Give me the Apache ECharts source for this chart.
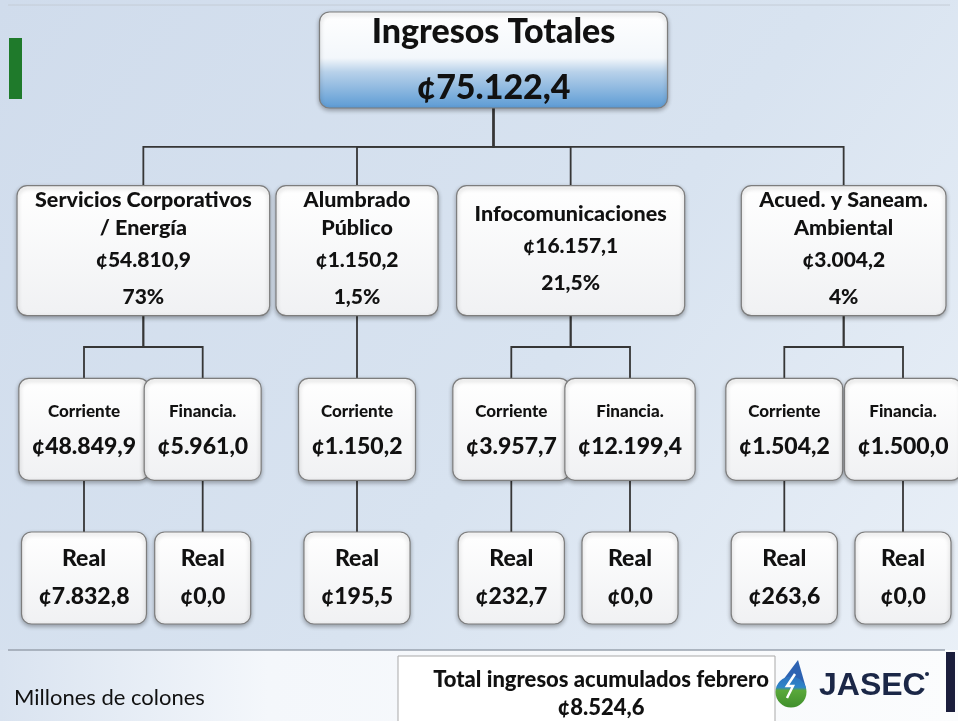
<!DOCTYPE html>
<html>
<head>
<meta charset="utf-8">
<script src="https://cdn.jsdelivr.net/npm/echarts@6/dist/echarts.min.js"></script>
<style>
  html, body { margin: 0; padding: 0; background: #fff; }
  #main { width: 958px; height: 721px; }
</style>
</head>
<body>
<div id="main"></div>
<script>
// datos (millones de colones)
const rootTitle = 'Ingresos Totales';
const rootValue = 75122.4;
const unitNames = ['Servicios Corporativos\n/ Energía', 'Alumbrado\nPúblico', 'Infocomunicaciones', 'Acued. y Saneam.\nAmbiental'];
const unitValues = [54810.9, 1150.2, 16157.1, 3004.2];
const unitShares = [73, 1.5, 21.5, 4];
const budgetTypes = [['Corriente', 'Financia.'], ['Corriente'], ['Corriente', 'Financia.'], ['Corriente', 'Financia.']];
const budgetValues = [[48849.9, 5961.0], [1150.2], [3957.7, 12199.4], [1504.2, 1500.0]];
const realLabel = 'Real';
const realValues = [[7832.8, 0.0], [195.5], [232.7, 0.0], [263.6, 0.0]];
const febLabel = 'Total ingresos acumulados febrero';
const febTotal = 8524.6;
const unitNote = 'Millones de colones';

const FONT = 'Lato';
const WEIGHT = 900;
const INK = '#111111';

function colones (v) {
  const parts = v.toFixed(1).split('.');
  return '¢' + parts[0].replace(/\B(?=(\d{3})+(?!\d))/g, '.') + ',' + parts[1];
}
function pct (v) {
  return String(v).replace('.', ',') + '%';
}

// estilos de texto por nivel
function tok (size, lh) {
  return { fontFamily: FONT, fontWeight: WEIGHT, fontSize: size, lineHeight: lh, fill: INK };
}
const rich = {
  t: tok(34, 56),
  n: tok(21.5, 28),
  v: tok(21, 37),
  c: tok(17, 34),
  b: tok(23, 36),
  r: tok(23, 38)
};
const boxH = [96, 130, 102, 92];
const levelShift = [0, 18, 24, 0];
const padW = [40, 36, 26, 34];
const minW = [348, 162, 108, 96];

const ctx = document.createElement('canvas').getContext('2d');
function boxWidth (depth, pieces) {
  let w = 0;
  pieces.forEach(p => {
    ctx.font = WEIGHT + ' ' + rich[p[0]].fontSize + 'px ' + FONT;
    w = Math.max(w, ctx.measureText(p[1]).width);
  });
  return Math.max(minW[depth], w + padW[depth]);
}
function makeNode (depth, x, pieces) {
  return {
    depth: depth,
    x: x,
    text: pieces.map(p => '{' + p[0] + '|' + p[1] + '}').join('\n'),
    w: boxWidth(depth, pieces)
  };
}

// posiciones: hojas separadas (hermanos 1, primos 1.3), padres centrados
const nodes = [];
const links = [];
const unitX = [];
let cursor = 0;
let prevUnit = null;
unitNames.forEach((name, u) => {
  const kids = [];
  budgetTypes[u].forEach((t, k) => {
    if (prevUnit !== null) cursor += (prevUnit === u ? 1 : 1.3);
    prevUnit = u;
    kids.push(cursor);
    nodes.push(makeNode(2, cursor, [['c', t], ['b', colones(budgetValues[u][k])]]));
    nodes.push(makeNode(3, cursor, [['r', realLabel], ['r', colones(realValues[u][k])]]));
    links.push([cursor, 2, cursor, 3]);
  });
  const ux = (kids[0] + kids[kids.length - 1]) / 2;
  unitX.push(ux);
  kids.forEach(kx => links.push([ux, 1, kx, 2]));
  const pieces = name.split('\n').map(s => ['n', s]);
  pieces.push(['v', colones(unitValues[u])], ['v', pct(unitShares[u])]);
  nodes.push(makeNode(1, ux, pieces));
});
const rootX = (unitX[0] + unitX[unitX.length - 1]) / 2;
unitX.forEach(ux => links.push([rootX, 0, ux, 1]));
nodes.push(makeNode(0, rootX, [['t', rootTitle], ['t', colones(rootValue)]]));

const chart = echarts.init(document.getElementById('main'));

function boxFill (depth) {
  if (depth === 0) {
    return new echarts.graphic.LinearGradient(0, 0, 0, 1, [
      { offset: 0, color: '#ffffff' },
      { offset: 0.48, color: '#f3f7fb' },
      { offset: 0.62, color: '#b9d2ea' },
      { offset: 1, color: '#5b9ad4' }
    ]);
  }
  return new echarts.graphic.LinearGradient(0, 0, 0, 1, [
    { offset: 0, color: '#ffffff' },
    { offset: 1, color: '#f0f1f3' }
  ]);
}

chart.setOption({
  animation: false,
  graphic: [
    {
      type: 'rect', z: -10, silent: true,
      shape: { x: 0, y: 0, width: 958, height: 721 },
      style: {
        fill: new echarts.graphic.LinearGradient(0, 0, 1, 1, [
          { offset: 0, color: '#d0dcec' },
          { offset: 0.55, color: '#d8e3f0' },
          { offset: 1, color: '#ebf1f8' }
        ])
      }
    },
    {
      type: 'rect', z: -9, silent: true,
      shape: { x: 0, y: 650, width: 958, height: 71 },
      style: {
        fill: new echarts.graphic.LinearGradient(0, 0, 1, 0, [
          { offset: 0, color: '#d9e3f0' },
          { offset: 0.28, color: '#f4f7fb' },
          { offset: 1, color: '#fbfcfd' }
        ])
      }
    },
    { type: 'line', z: -8, silent: true, shape: { x1: 8, y1: 650, x2: 945, y2: 650 }, style: { stroke: '#98a2ae', lineWidth: 1.5 } },
    { type: 'line', z: -8, silent: true, shape: { x1: 8, y1: 5, x2: 950, y2: 5 }, style: { stroke: '#c4ccd6', lineWidth: 1 } },
    { type: 'rect', z: -8, silent: true, shape: { x: 9, y: 38, width: 13, height: 61 }, style: { fill: '#1f7a2b' } },
    {
      type: 'text', x: 14, y: 687, silent: true,
      style: { text: unitNote, font: '22px ' + FONT, fill: INK }
    },
    {
      type: 'rect', z: -7, silent: true,
      shape: { x: 398, y: 656, width: 377, height: 70 },
      style: { fill: '#ffffff', stroke: '#a9a9a9', lineWidth: 1 }
    },
    {
      type: 'text', silent: true, x: 601, y: 666,
      style: {
        text: febLabel + '\n' + colones(febTotal), align: 'center', verticalAlign: 'top',
        font: WEIGHT + ' 22px ' + FONT, lineHeight: 28, fill: INK
      }
    },
    {
      type: 'polygon', silent: true,
      shape: { points: [[798, 660], [777, 688], [806, 688]] },
      style: { fill: '#2d62b2' }
    },
    {
      type: 'circle', silent: true,
      shape: { cx: 791, cy: 692, r: 15.5 },
      style: {
        fill: new echarts.graphic.LinearGradient(0, 0, 0, 1, [
          { offset: 0, color: '#2e72c0' },
          { offset: 0.35, color: '#2e86c8' },
          { offset: 0.45, color: '#5aa83a' },
          { offset: 1, color: '#3f8f2c' }
        ])
      }
    },
    {
      type: 'polyline', silent: true,
      shape: { points: [[795, 674], [787, 686], [793, 686], [787, 698]] },
      style: { stroke: '#ffffff', lineWidth: 2.5, fill: null }
    },
    {
      type: 'text', silent: true, x: 819, y: 670,
      style: { text: 'JASEC', font: 'bold 32px "Liberation Sans"', fill: '#1b2747' }
    },
    { type: 'circle', silent: true, shape: { cx: 927, cy: 674, r: 2 }, style: { fill: '#1b2747' } },
    { type: 'rect', silent: true, shape: { x: 946, y: 652, width: 9, height: 60 }, style: { fill: '#1b1e3c' } }
  ],
  grid: { left: 84, right: 55, top: 60, bottom: 143 },
  xAxis: { type: 'value', min: 0, max: cursor, show: false },
  yAxis: { type: 'value', min: 0, max: 3, inverse: true, show: false },
  series: [
    {
      // conectores en codo
      type: 'custom',
      z: 1,
      silent: true,
      encode: { x: [0, 2], y: [1, 3] },
      data: links,
      renderItem: function (params, api) {
        const pd = api.value(1), cd = api.value(3);
        const p = api.coord([api.value(0), pd]);
        const c = api.coord([api.value(2), cd]);
        const y0 = p[1] + levelShift[pd] + boxH[pd] / 2;
        const y1 = c[1] + levelShift[cd] - boxH[cd] / 2;
        const bus = (y0 + y1) / 2;
        return {
          type: 'polyline',
          shape: { points: [[p[0], y0], [p[0], bus], [c[0], bus], [c[0], y1]] },
          style: { stroke: '#363636', lineWidth: 1.8, fill: null }
        };
      }
    },
    {
      type: 'custom',
      z: 2,
      silent: true,
      data: nodes.map(n => [n.x, n.depth]),
      renderItem: function (params, api) {
        const n = nodes[params.dataIndex];
        const p = api.coord([api.value(0), api.value(1)]);
        const cy = p[1] + levelShift[n.depth];
        const h = boxH[n.depth];
        return {
          type: 'group',
          children: [
            {
              type: 'rect',
              shape: { x: p[0] - n.w / 2, y: cy - h / 2, width: n.w, height: h, r: 10 },
              style: {
                fill: boxFill(n.depth), stroke: '#7d7d7d', lineWidth: 1.2,
                shadowBlur: 4, shadowOffsetY: 2, shadowColor: 'rgba(0,0,0,0.3)'
              }
            },
            {
              type: 'text',
              x: p[0], y: cy,
              style: { text: n.text, rich: rich, align: 'center', verticalAlign: 'middle', fill: INK }
            }
          ]
        };
      }
    }
  ]
});
</script>
</body>
</html>
